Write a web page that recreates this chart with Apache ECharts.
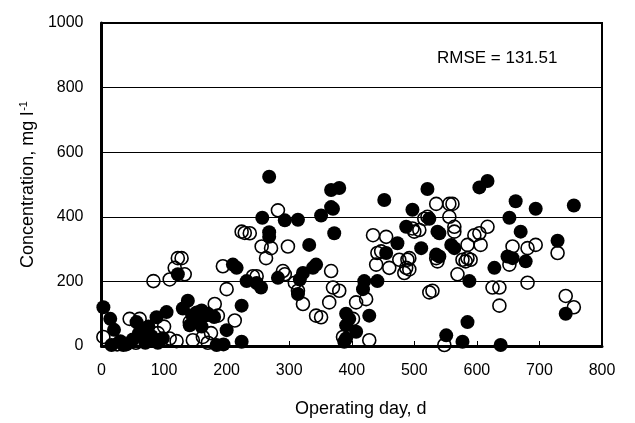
<!DOCTYPE html>
<html>
<head>
<meta charset="utf-8">
<script src="https://cdn.jsdelivr.net/npm/echarts@6/dist/echarts.min.js"></script>
<style>html,body{margin:0;padding:0;background:#fff}#c{width:635px;height:423px}</style>
</head>
<body>
<div id="c"></div>
<script>
// Filled circles (day, concentration)
const filledDays = [268,257,268,268,210,216,232,248,255,122,3,14,138,104,88,130,152,168,224,200,224,184,56,16,35,98,141,
  40,50,60,70,80,30,20,65,75,90,150,160,170,180,195,160,145,
  367,380,367,370,351,452,497,293,314,372,332,487,511,473,455,343,338,322,317,282,314,420,441,418,391,396,391,428,391,388,407,
  521,604,617,662,694,755,652,670,729,524,537,540,559,564,535,540,628,649,657,678,588,742,585,551,577,638];
const filledVals = [524,397,352,338,252,242,201,195,181,222,120,84,140,105,89,116,104,95,125,49,13,3,74,3,3,24,64,
  5,20,40,10,30,15,50,55,60,10,80,60,100,90,5,110,95,
  483,489,430,425,404,452,422,389,391,349,313,369,303,318,288,252,242,226,206,211,161,201,201,176,100,84,64,94,23,13,44,
  486,491,511,448,425,435,397,354,326,394,354,349,313,303,283,277,242,277,272,262,201,100,74,33,13,3];
// Open circles (day, concentration)
const openDays = [229,224,128,122,117,109,83,133,194,200,248,242,256,263,181,213,3,45,61,146,162,186,141,109,
  25,55,90,120,170,175,100,
  282,237,271,298,290,293,367,309,314,322,343,351,364,370,380,407,423,402,428,386,434,455,441,447,439,460,476,489,487,484,497,516,508,524,
  535,556,561,521,556,500,564,564,617,596,604,606,585,535,537,577,582,585,590,569,492,492,657,681,694,652,729,625,636,636,681,529,742,755,548];
const openVals = [350,354,272,272,242,206,201,222,247,176,216,216,308,272,130,79,28,84,84,18,28,94,74,23,
  5,10,40,15,10,40,60,
  420,349,303,308,232,222,232,196,171,130,94,89,135,181,171,135,145,84,18,28,343,338,288,293,252,242,267,267,242,226,364,394,359,166,
  440,440,440,400,400,354,369,354,369,343,349,313,313,272,262,267,262,272,267,222,272,237,308,303,313,252,288,181,181,125,196,171,155,120,3];
const xTicks = [0,100,200,300,400,500,600,700,800];
const yTicks = [0,200,400,600,800,1000];

const zip = (a,b) => a.map((v,i)=>[v,b[i]]);
const FONT = 'Liberation Sans, Arial, sans-serif';
const chart = echarts.init(document.getElementById('c'));
chart.setOption({
  animation: false,
  backgroundColor: '#fff',
  grid: {left: 101.5, right: 33, top: 23, bottom: 72, show: true, borderColor: '#000', borderWidth: 2, backgroundColor: 'transparent'},
  xAxis: {
    type: 'value', min: xTicks[0], max: xTicks[xTicks.length-1], interval: 100,
    name: 'Operating day, d', nameLocation: 'middle', nameGap: 54,
    nameTextStyle: {fontFamily: FONT, fontSize: 18, color: '#000', padding: [0,0,0,18]},
    axisLine: {show: true, onZero: false, lineStyle: {color: '#000', width: 3}},
    axisTick: {show: true, inside: true, length: 5, lineStyle: {color: '#000', width: 1}},
    axisLabel: {fontFamily: FONT, fontSize: 16, color: '#000', margin: 17, formatter: v => String(v)},
    splitLine: {show: false}
  },
  yAxis: {
    type: 'value', min: yTicks[0], max: yTicks[yTicks.length-1], interval: 200,
    name: '{a|Concentration, mg l}{s|-1}', nameLocation: 'middle', nameGap: 64,
    nameTextStyle: {rich: {a: {fontFamily: FONT, fontSize: 18, color: '#000'}, s: {fontFamily: FONT, fontSize: 11, color: '#000', verticalAlign: 'top', padding: [0,0,8,1]}}},
    axisLine: {show: true, lineStyle: {color: '#000', width: 3}},
    axisTick: {show: false},
    axisLabel: {fontFamily: FONT, fontSize: 16, color: '#000', margin: 18, formatter: v => String(v)},
    splitLine: {show: true, lineStyle: {color: '#000', width: 1}}
  },
  graphic: [{type: 'text', left: 437, top: 50, style: {text: 'RMSE = 131.51', font: '17px ' + FONT, fill: '#000'}}],
  series: [
    {type: 'scatter', data: zip(filledDays, filledVals), symbol: 'circle', symbolSize: 14,
     itemStyle: {color: '#000', borderColor: '#000', borderWidth: 0, opacity: 1}, z: 2},
    {type: 'scatter', data: zip(openDays, openVals), symbol: 'circle', symbolSize: 13,
     itemStyle: {color: 'rgba(255,255,255,0)', borderColor: '#000', borderWidth: 1.6, opacity: 1}, z: 3}
  ]
});
</script>
</body>
</html>
